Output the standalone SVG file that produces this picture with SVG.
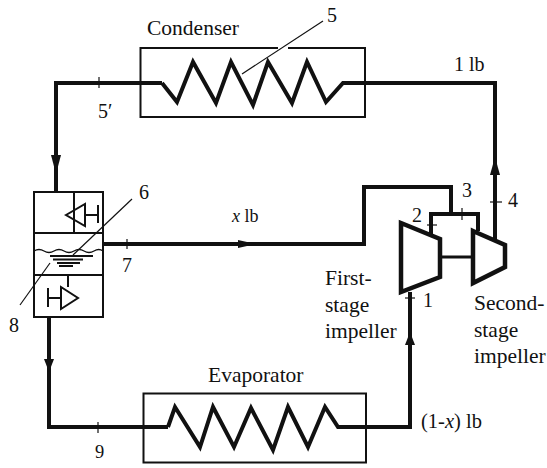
<svg xmlns="http://www.w3.org/2000/svg" width="547" height="468" viewBox="0 0 547 468">
<style>
text{font-family:"Liberation Serif","Times New Roman",serif;font-size:21.500px;fill:#111}
.n{font-size:20px}
.h{fill:none;stroke:#111;stroke-width:4;stroke-linejoin:miter}
.b{fill:none;stroke:#111;stroke-width:2}
.t{fill:none;stroke:#111;stroke-width:1.2}
.c{fill:none;stroke:#111;stroke-width:4.500}
.a{fill:#111}
</style>
<rect width="547" height="468" fill="#fff"/>
<g id="connectors">
<path class="h" d="M162 83H56V192"/>
<path class="t" d="M99 77V88"/>
<path class="a" d="M51 155H61L56 174Z"/>
<path class="h" d="M103 244H364V187H451V213"/>
<path class="t" d="M127 239V249"/>
<path class="a" d="M256 244L238 240V248Z"/>
<path class="h" d="M431 235V214H478V231"/>
<path class="t" d="M462 208V220"/>
<path class="t" d="M427 225H437"/>
<path class="b" d="M440 257H473" style="stroke-width:3"/>
<path class="h" d="M495 239V83H344"/>
<path class="t" d="M490 202H502"/>
<path class="a" d="M495 157L490 175H500Z"/>
<path class="h" d="M49 317V427H168"/>
<path class="t" d="M98 422V433"/>
<path class="a" d="M49 372L44 359H54Z"/>
<path class="h" d="M338 427H410V292"/>
<path class="t" d="M405 298H415"/>
<path class="a" d="M410 332L405 345H415Z"/>
</g>
<g id="condenser">
<path class="b" d="M278 48H140.500V117H365V48H288"/>
<path class="h" d="M162 83L177 102L193 62L216 103L231 62L253 105L268 62L292 103L307 62L326 102L343 83H345"/>
<text x="147" y="35">Condenser</text>
</g>
<g id="evaporator">
<rect class="b" x="143.500" y="393.500" width="222.500" height="69"/>
<path class="h" d="M168 427L175 407L200 447L213 407L234 447L251 408L273 450L288 407L308 447L325 407L338 427H342"/>
<text x="208" y="382">Evaporator</text>
</g>
<g id="flash-tank">
<rect class="b" x="34" y="192" width="69" height="125"/>
<path class="b" d="M34 233H103M34 275H103"/>
<path class="b" d="M74 192V233M98 205V223M85 215H98M66 215L85 204V226ZM68 275V287M48 298H61M48 288V307M61 287V309L78 298Z"/>
<path class="b" style="stroke-width:1.300" d="M34 251q5 -3 10 0t10 0t10 0t10 0t10 0t10 0t9 0"/>
<path class="b" d="M50 256H93M53 259.500H83M57 263H80M59 266H73"/>
</g>
<g id="first-stage">
<path class="c" d="M401 223L440 239V277L401 292Z"/>
<text x="325" y="285">First-</text>
<text x="325" y="312">stage</text>
<text x="325" y="338">impeller</text>
</g>
<g id="second-stage">
<path class="c" d="M473 231L505 245V267L473 283Z"/>
<text x="474" y="310">Second-</text>
<text x="474" y="337">stage</text>
<text x="474" y="363">impeller</text>
</g>
<g id="labels">
<path class="t" d="M242 74L323 21"/>
<path class="t" d="M73 255L132 199"/>
<path class="t" d="M20 305L50 263"/>
<text class="n" x="327" y="22">5</text>
<text class="n" x="98" y="118">5′</text>
<text class="n" x="454" y="71">1 lb</text>
<text class="n" x="139" y="199">6</text>
<text class="n" x="232" y="222" style="font-size:18px"><tspan font-style="italic">x</tspan> lb</text>
<text class="n" x="122" y="272">7</text>
<text class="n" x="9" y="332">8</text>
<text class="n" x="412" y="222">2</text>
<text class="n" x="462" y="197">3</text>
<text class="n" x="508" y="207">4</text>
<text class="n" x="423" y="307">1</text>
<text class="n" style="font-size:18.500px" x="95" y="458">9</text>
<text x="421" y="428" style="font-size:20.500px">(1-<tspan font-style="italic">x</tspan>) lb</text>
</g>
</svg>
